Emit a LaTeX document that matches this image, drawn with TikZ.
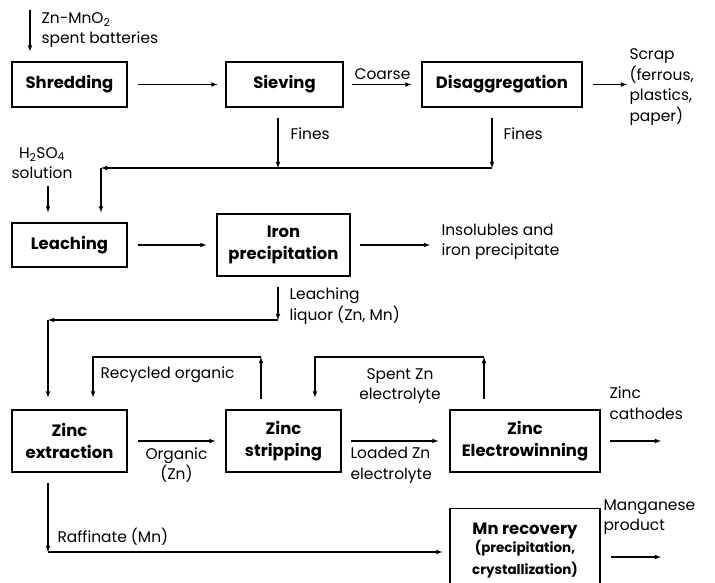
\documentclass[tikz,border=0pt]{standalone}
\usepackage{fontspec}
\setmainfont{Poppins}
\usetikzlibrary{calc,arrows.meta}

\newcommand{\subsz}{\fontsize{13.5}{18}\selectfont}

\begin{document}
\begin{tikzpicture}[x=1bp, y=-1bp, >=latex, line width=1.1bp,
  proc/.style={draw, line width=1.2bp, align=center, inner sep=2bp,
    font=\fontsize{16.5}{22}\selectfont\bfseries},
  lbl/.style={align=left, inner sep=0pt, font=\fontsize{15.5}{20.5}\selectfont}]

\useasboundingbox (0,0) rectangle (715,583);

% Process boxes
\node[proc, minimum width=115bp, minimum height=45bp] (shred) at (69.5,84.5) {Shredding};
\node[proc, minimum width=117bp, minimum height=45bp] (sieve) at (284.5,84.5) {Sieving};
\node[proc, minimum width=160bp, minimum height=45bp] (disagg) at (502,84.5) {Disaggregation};
\node[proc, minimum width=115bp, minimum height=44bp] (leach) at (69.5,245) {Leaching};
\node[proc, minimum width=133bp, minimum height=62bp] (ironp) at (283.5,245) {Iron\\precipitation};
\node[proc, minimum width=115bp, minimum height=62bp] (zext) at (69.5,441) {Zinc\\extraction};
\node[proc, minimum width=115bp, minimum height=62bp] (zstrip) at (283.5,441) {Zinc\\stripping};
\node[proc, minimum width=150bp, minimum height=62bp] (zew) at (525,441) {Zinc\\Electrowinning};
\node[proc, minimum width=150bp, minimum height=84bp, anchor=north] (mnrec) at (525,508)
  {Mn recovery\\[-4bp]\subsz (precipitation,\\\subsz crystallization)};

% Stream labels
\node[lbl, anchor=west] (batt) at (41,30) {Zn-MnO\textsubscript{2}\\spent batteries};
\node[lbl, anchor=west] (scrap) at (629,87) {Scrap\\(ferrous,\\plastics,\\paper)};
\node[lbl, align=center] (acid) at (42,163) {H\textsubscript{2}SO\textsubscript{4}\\solution};
\node[lbl, anchor=west] (fines1) at (290,134) {Fines};
\node[lbl, anchor=west] (fines2) at (503,134) {Fines};
\node[lbl, anchor=west] (insol) at (441,242) {Insolubles and\\iron precipitate};
\node[lbl, anchor=west] (liquor) at (289,306) {Leaching\\liquor (Zn, Mn)};
\node[lbl, anchor=west] (recyc) at (100,375) {Recycled organic};
\node[lbl, align=center] (spent) at (400,386) {Spent Zn\\electrolyte};
\node[lbl, anchor=north west] (loaded) at (350,447) {Loaded Zn\\electrolyte};
\node[lbl, anchor=west] (cathode) at (609,403) {Zinc\\cathodes};
\node[lbl, anchor=west] (raff) at (57,537) {Raffinate (Mn)};
\node[lbl, anchor=west] (mnprod) at (603,517) {Manganese\\product};

% Corner points
\coordinate (fm) at (278,168);
\coordinate (fr) at (492,168);
\coordinate (fl) at (101,168);
\coordinate (lq) at (278,320);
\coordinate (lql) at (48,320);
\coordinate (ro1) at (261,357);
\coordinate (ro2) at (93,357);
\coordinate (se1) at (484,357);
\coordinate (se2) at (315,357);
\coordinate (rf) at (48,552);
\coordinate (zc) at (661,441);
\coordinate (mp) at (661,557);

% Top row
\draw[->] ($(batt.west)+(-11,-20)$) -- ($(shred.north -| batt.west)+(-11,-10)$);
\draw[->, shorten <=10bp, shorten >=8bp] (shred) -- (sieve);
\draw[->, shorten <=8bp, shorten >=10bp] (sieve) -- node[lbl, above=4bp] (coarse) {Coarse} (disagg);
\draw[->, shorten <=10bp, shorten >=2bp] (disagg) -- (disagg -| scrap.west);

% Fines to leaching
\draw[->] ($(sieve.south)+(-6.5,10)$) -- (fm);
\draw[->] ($(disagg.south)+(-10,10)$) -- (fr);
\draw[->] (fr) -- (fl);
\draw[->] (fl) -- ($(leach.north -| fl)+(0,-10)$);
\draw[->] ($(acid.south)+(6,7)$) -- ($(leach.north -| acid.south)+(6,-10)$);

% Leaching and iron removal
\draw[->, shorten <=10bp, shorten >=10bp] (leach) -- (ironp);
\draw[->, shorten <=9bp, shorten >=11bp] (ironp) -- (ironp -| insol.west);
\draw[->] ($(ironp.south)+(-5.5,10)$) -- (lq);
\draw[->] (lq) -- (lql);
\draw[->] (lql) -- ($(zext.north -| lql)+(0,-12)$);

% Solvent extraction loop
\draw[->, shorten <=10bp, shorten >=10bp] (zext) -- node[lbl, align=center, below=6bp] (org) {Organic\\(Zn)} (zstrip);
\draw[->, shorten <=9bp, shorten >=11bp] (zstrip) -- (zew);
\draw[->] ($(zstrip.north)+(-22.5,-10)$) -- (ro1);
\draw[->] (ro1) -- (ro2) -- ($(zext.north -| ro2)+(0,-12)$);
\draw[->] ($(zew.north)+(-41,-10)$) -- (se1);
\draw[->] (se1) -- (se2) -- ($(zstrip.north -| se2)+(0,-12)$);
\draw[->, shorten <=9bp] (zew) -- (zc);

% Manganese branch
\draw[->] ($(zext.south -| rf)+(0,10)$) -- (rf);
\draw[->] (rf) -- ($(mnrec.west |- rf)+(-7,0)$);
\draw[->] ($(mnrec.east |- mp)+(10,0)$) -- (mp);

\end{tikzpicture}
\end{document}
